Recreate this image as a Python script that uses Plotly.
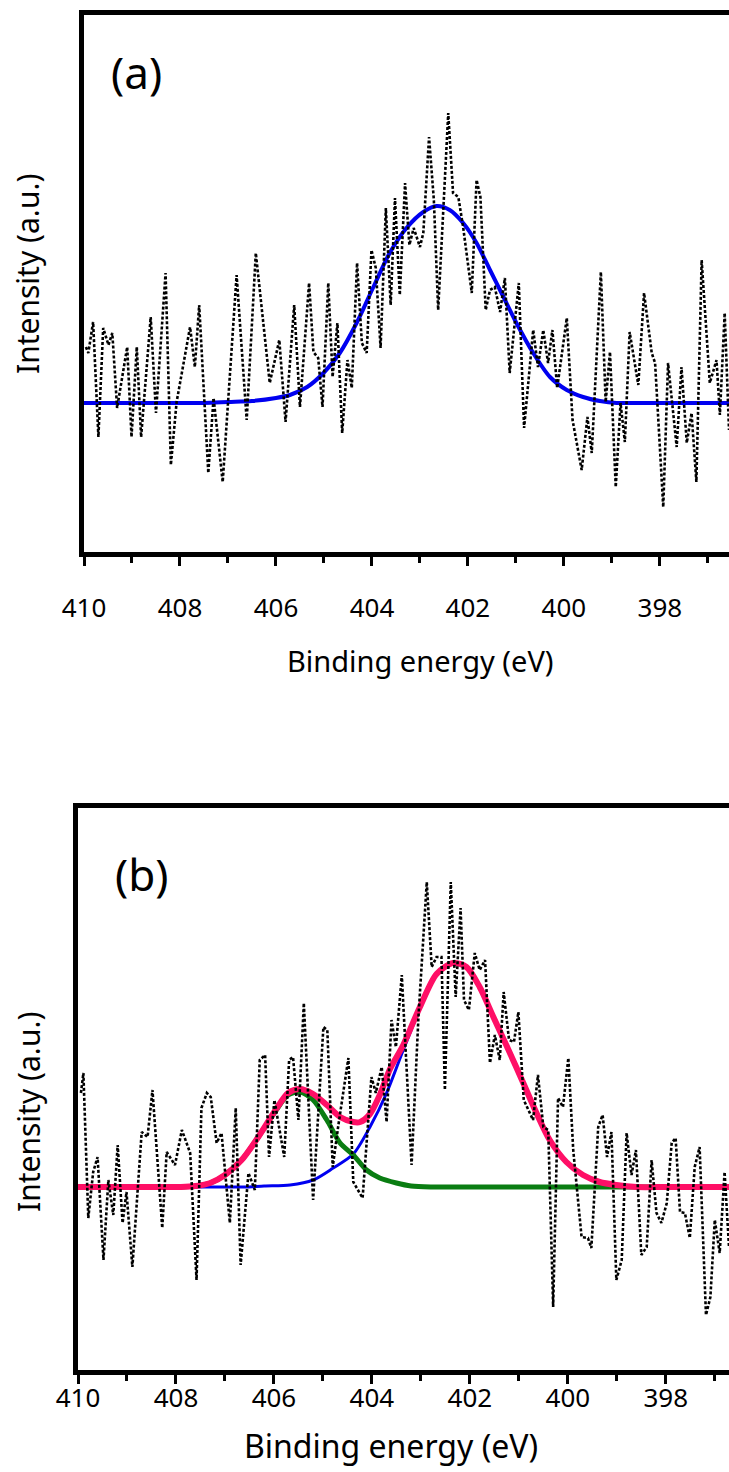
import plotly.graph_objects as go

# ---------------- Panel (a) data ----------------
energy_a = [409.96, 409.91, 409.81, 409.70, 409.60, 409.49, 409.41, 409.31, 409.10, 409.01,
            408.90, 408.81, 408.61, 408.50, 408.30, 408.19, 408.07, 407.79, 407.69, 407.60,
            407.41, 407.30, 407.11, 406.82, 406.61, 406.42, 406.13, 405.93, 405.80, 405.62,
            405.50, 405.31, 405.22, 405.12, 405.03, 404.91, 404.82, 404.72, 404.62, 404.51,
            404.42, 404.31, 404.21, 404.11, 404.01, 403.92, 403.82, 403.71, 403.61, 403.52,
            403.42, 403.31, 403.22, 403.13, 403.00, 402.93, 402.81, 402.71, 402.62, 402.51,
            402.41, 402.31, 402.20, 402.10, 401.92, 401.82, 401.74, 401.63, 401.54, 401.44,
            401.33, 401.23, 401.13, 400.94, 400.83, 400.64, 400.54, 400.43, 400.33, 400.24,
            400.14, 399.94, 399.82, 399.63, 399.51, 399.42, 399.23, 399.13, 399.04, 398.92,
            398.82, 398.73, 398.63, 398.45, 398.33, 398.17, 398.10, 397.93, 397.83, 397.65,
            397.55, 397.44, 397.34, 397.24, 397.13, 396.96, 396.82, 396.75, 396.65, 396.56]
intensity_a = [56, 50, 81, -34, 75, 58, 70, -5, 56, -34,
               56, -34, 86, -10, 130, -62, 1, 76, 36, 98,
               -70, 5, -79, 128, -17, 150, 20, 63, -19, 98,
               -4, 120, 51, 45, -4, 120, 26, 80, -30, 43,
               15, 140, 60, 50, 153, 135, 55, 195, 98, 205,
               108, 220, 158, 175, 156, 170, 266, 203, 93, 196,
               290, 210, 206, 176, 110, 223, 206, 93, 113, 116,
               91, 125, 30, 120, -25, 73, 36, 73, 40, 73,
               15, 85, -17, -67, -14, -50, 131, 1, 51, -84,
               0, -39, 71, 18, 110, 50, 40, -104, 40, -44,
               36, -40, -10, -79, 143, 20, 43, -12, 90, -27]

fit_a_energy = [410.0, 409.0, 408.0, 407.5, 407.0, 406.5, 406.0, 405.71, 405.35, 405.01,
                404.67, 404.32, 403.97, 403.63, 403.28, 402.93, 402.65, 402.38, 402.10, 401.82,
                401.54, 401.26, 400.99, 400.64, 400.29, 399.94, 399.60, 399.25, 398.9, 398.5,
                398.0, 397.0, 396.5]
fit_a_intensity = [0, 0, 0, 0, 1, 2, 5, 8, 16, 30,
                   50, 80, 116, 150, 175, 191, 197, 193, 180, 160,
                   133, 106, 80, 50, 26, 13, 6, 2, 0, 0,
                   0, 0, 0]

# ---------------- Panel (b) data ----------------
energy_b = [409.94, 409.89, 409.79, 409.69, 409.60, 409.48, 409.38, 409.28, 409.19, 409.09,
            409.01, 408.89, 408.70, 408.58, 408.48, 408.28, 408.19, 408.02, 407.88, 407.71,
            407.58, 407.48, 407.37, 407.29, 407.17, 407.07, 406.90, 406.78, 406.68, 406.52,
            406.39, 406.29, 406.18, 406.10, 405.99, 405.79, 405.69, 405.61, 405.50, 405.39,
            405.20, 404.99, 404.91, 404.80, 404.69, 404.48, 404.38, 404.19, 404.01, 403.92,
            403.80, 403.70, 403.60, 403.51, 403.39, 403.29, 403.19, 403.05, 402.88, 402.78,
            402.68, 402.58, 402.51, 402.39, 402.29, 402.19, 402.12, 402.02, 401.90, 401.80,
            401.69, 401.59, 401.49, 401.39, 401.31, 401.20, 401.10, 401.01, 400.90, 400.71,
            400.61, 400.50, 400.40, 400.30, 400.20, 400.10, 399.99, 399.89, 399.72, 399.59,
            399.52, 399.38, 399.29, 399.20, 399.11, 399.01, 398.90, 398.80, 398.70, 398.61,
            398.50, 398.39, 398.29, 398.19, 398.09, 397.98, 397.88, 397.80, 397.71, 397.61,
            397.51, 397.41, 397.31, 397.18, 397.09, 397.00, 396.90, 396.80, 396.71]
intensity_b = [94, 114, -31, 15, 30, -73, 7, -28, 42, -36,
               -5, -80, 55, 50, 97, -41, 35, 22, 57, 34,
               -93, 79, 94, 90, 44, 54, -36, 79, -78, 14,
               -3, 127, 132, 30, 87, 30, 127, 130, 67, 184,
               -13, 160, 157, 20, 60, 129, 5, -11, 110, 94,
               120, 65, 167, 140, 212, 114, 22, 170, 305, 220,
               230, 230, 97, 305, 190, 279, 187, 177, 234, 217,
               227, 124, 152, 127, 195, 147, 145, 175, 87, 67,
               112, 60, 57, -120, 89, 80, 129, 37, -50, -51,
               -61, 60, 72, 30, 55, -93, -73, 54, 12, 37,
               -68, -60, 27, -26, -36, -16, 44, 49, -25, -26,
               -51, 20, 40, -128, -110, -33, -66, 15, -60]

fit_b1_energy = [410.0, 409.0, 408.0, 407.0, 406.6, 406.2, 405.67, 405.20, 404.79, 404.38,
                 404.04, 403.70, 403.36, 403.02, 402.68, 402.34, 402.07, 401.80, 401.52, 401.22,
                 400.91, 400.64, 400.37, 400.03, 399.69, 399.35, 399.01, 398.6, 398.0, 397.0, 396.7]
fit_b1_intensity = [0, 0, 0, 0, 0, 1, 2, 7, 19, 33,
                    60, 94, 137, 178, 212, 224, 220, 200, 170, 138,
                    104, 74, 47, 25, 12, 5, 2, 0, 0, 0, 0]

fit_b2_energy = [410.0, 409.0, 408.3, 407.9, 407.6, 407.3, 407.0, 406.66, 406.32, 405.98,
                 405.71, 405.47, 405.20, 404.92, 404.65, 404.38, 404.11, 403.84, 403.50, 403.2,
                 402.8, 402.0, 400.0, 398.0, 396.7]
fit_b2_intensity = [0, 0, 0, 0, 1, 4, 12, 27, 50, 75,
                    92, 95, 87, 67, 44, 32, 17, 9, 4, 1,
                    0, 0, 0, 0, 0]

envelope_b_energy = [410.0, 409.0, 408.3, 407.9, 407.6, 407.3, 407.0, 406.66, 406.32, 405.98,
                     405.71, 405.47, 405.20, 404.92, 404.65, 404.38, 404.24, 404.04, 403.84, 403.63,
                     403.36, 403.02, 402.68, 402.34, 402.07, 401.80, 401.52, 401.22, 400.91, 400.64,
                     400.37, 400.03, 399.69, 399.35, 399.01, 398.6, 398.0, 397.0, 396.7]
envelope_b_intensity = [0, 0, 0, 0, 1, 4, 12, 27, 50, 76,
                        94, 98, 93, 82, 70, 65, 65, 73, 92, 118,
                        142, 180, 213, 224, 220, 200, 170, 138, 104, 74,
                        47, 25, 12, 5, 2, 0, 0, 0, 0]

tick_vals = [410, 408, 406, 404, 402, 400, 398]
tick_text = [str(v) for v in tick_vals]

W, H = 729, 1472
FONT = "Noto Sans"
BLUE = "#0000f0"
GREEN = "#0a7d12"
PINK = "#ff0f66"

fig = go.Figure()

# panel (a)
fig.add_trace(go.Scatter(x=fit_a_energy, y=fit_a_intensity, mode="lines",
                         line=dict(color=BLUE, width=4, shape="spline", smoothing=0.8),
                         xaxis="x", yaxis="y", hoverinfo="skip"))
fig.add_trace(go.Scatter(x=energy_a, y=intensity_a, mode="lines",
                         line=dict(color="black", width=2.6, dash="3px,2px"),
                         xaxis="x", yaxis="y"))

# panel (b)
fig.add_trace(go.Scatter(x=fit_b1_energy, y=fit_b1_intensity, mode="lines",
                         line=dict(color=BLUE, width=3, shape="spline", smoothing=0.8),
                         xaxis="x2", yaxis="y2", hoverinfo="skip"))
fig.add_trace(go.Scatter(x=fit_b2_energy, y=fit_b2_intensity, mode="lines",
                         line=dict(color=GREEN, width=5, shape="spline", smoothing=0.8),
                         xaxis="x2", yaxis="y2", hoverinfo="skip"))
fig.add_trace(go.Scatter(x=envelope_b_energy, y=envelope_b_intensity, mode="lines",
                         line=dict(color=PINK, width=6, shape="spline", smoothing=0.8),
                         xaxis="x2", yaxis="y2", hoverinfo="skip"))
fig.add_trace(go.Scatter(x=energy_b, y=intensity_b, mode="lines",
                         line=dict(color="black", width=2.6, dash="3px,2px"),
                         xaxis="x2", yaxis="y2"))


def xaxis_cfg(domain, rng, anchor, standoff):
    return dict(domain=domain, range=rng, anchor=anchor, autorange=False,
                automargin=False,
                showline=True, linewidth=5, linecolor="black", mirror=True,
                ticks="outside", ticklen=9, tickwidth=3, tickcolor="black",
                tickvals=tick_vals, ticktext=tick_text,
                minor=dict(dtick=1, tick0=410, ticks="outside", ticklen=6,
                           tickwidth=3, tickcolor="black", showgrid=False),
                showgrid=False, zeroline=False,
                tickfont=dict(family=FONT, size=26, color="black"),
                ticklabelstandoff=standoff)


def yaxis_cfg(domain, rng, anchor):
    return dict(domain=domain, range=rng, anchor=anchor, autorange=False,
                automargin=False,
                showline=True, linewidth=5, linecolor="black", mirror=False,
                ticks="", showticklabels=False, showgrid=False, zeroline=False)


fig.update_layout(
    width=W, height=H,
    margin=dict(l=0, r=0, t=0, b=0, pad=0, autoexpand=False),
    paper_bgcolor="white", plot_bgcolor="white",
    showlegend=False,
    xaxis=xaxis_cfg([84 / W, 1], [410, 396.56], "y", 20),
    yaxis=yaxis_cfg([1 - 552 / H, 1 - 15 / H], [-149, 388], "x"),
    xaxis2=xaxis_cfg([78 / W, 1], [410, 396.71], "y2", -8),
    yaxis2=yaxis_cfg([1 - 1370 / H, 1 - 808 / H], [-183, 379], "x2"),
)

annotations = [
    dict(text="(a)", x=136 / W, y=1 - 72 / H, font=dict(size=44)),
    dict(text="(b)", x=141 / W, y=1 - 874 / H, font=dict(size=44)),
    dict(text="Binding energy (eV)", x=420 / W, y=1 - 660 / H, font=dict(size=29)),
    dict(text="Binding energy (eV)", x=391 / W, y=1 - 1445 / H, font=dict(size=32)),
    dict(text="Intensity (a.u.)", x=28 / W, y=1 - 274 / H, font=dict(size=30), textangle=-90),
    dict(text="Intensity (a.u.)", x=28 / W, y=1 - 1112 / H, font=dict(size=30), textangle=-90),
]
for a in annotations:
    a.update(xref="paper", yref="paper", showarrow=False, xanchor="center", yanchor="middle")
    a["font"].update(family=FONT, color="black")
fig.update_layout(annotations=annotations)

fig.write_html("out.html")
